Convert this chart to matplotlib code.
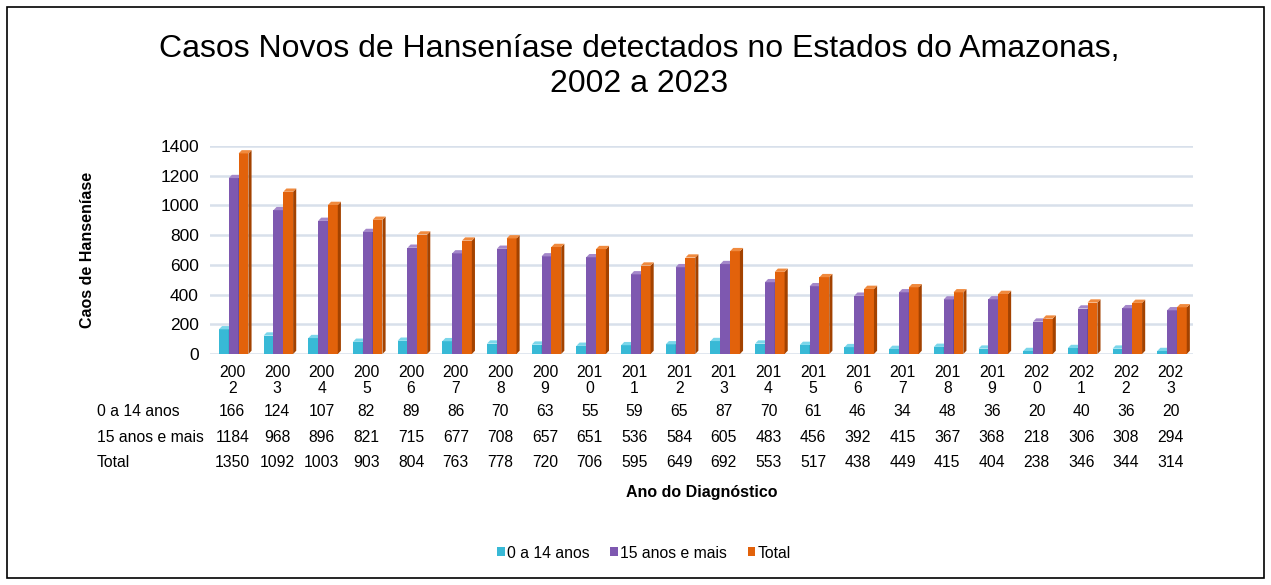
import matplotlib.pyplot as plt
from matplotlib.patches import Polygon, Rectangle
from matplotlib.transforms import blended_transform_factory

plt.rcParams['font.family'] = ['Liberation Sans', 'DejaVu Sans']

anos = list(range(2002, 2024))
criancas = [166, 124, 107, 82, 89, 86, 70, 63, 55, 59, 65, 87, 70, 61, 46, 34, 48, 36, 20, 40, 36, 20]
adultos = [1184, 968, 896, 821, 715, 677, 708, 657, 651, 536, 584, 605, 483, 456, 392, 415, 367, 368, 218, 306, 308, 294]
total = [1350, 1092, 1003, 903, 804, 763, 778, 720, 706, 595, 649, 692, 553, 517, 438, 449, 415, 404, 238, 346, 344, 314]

series = [
    ("0 a 14 anos", criancas, '#38b9d6', '#2590ae', '#7ad6ea'),
    ("15 anos e mais", adultos, '#7e58b0', '#573a82', '#a487ca'),
    ("Total", total, '#e2620b', '#a34200', '#f08a3e'),
]

W, H = 1271, 585
fig = plt.figure(figsize=(W / 100, H / 100), dpi=100)
ax = fig.add_axes([210 / W, 1 - 354 / H, (1193 - 210) / W, (354 - 146) / H])
n = len(anos)
ax.set_xlim(-0.5, n - 0.5)
ax.set_ylim(0, 1400)

for v in range(0, 1401, 200):
    ax.axhline(v, color='#d8e0eb', lw=1.8, zorder=0)

w = 0.22
dx = 0.07
dy = 22
for k, (nome, vals, cf, cs, ct) in enumerate(series):
    for i, v in enumerate(vals):
        x0 = i + (k - 1) * w - w / 2 + 0.03
        ax.add_patch(Rectangle((x0, 0), w, v, facecolor=cf, edgecolor='none', zorder=3 + k))
        ax.add_patch(Polygon([(x0 + w, 0), (x0 + w + dx, dy), (x0 + w + dx, v + dy), (x0 + w, v)],
                             closed=True, facecolor=cs, edgecolor='none', zorder=3 + k))
        ax.add_patch(Polygon([(x0, v), (x0 + w, v), (x0 + w + dx, v + dy), (x0 + dx, v + dy)],
                             closed=True, facecolor=ct, edgecolor='none', zorder=3 + k))

for s in ax.spines.values():
    s.set_visible(False)
ax.set_yticks(range(0, 1401, 200))
ax.tick_params(axis='y', length=0, labelsize=12.5, pad=8)
ax.set_xticks(range(n))
ax.set_xticklabels([f"{str(a)[:3]}\n{str(a)[3]}" for a in anos], fontsize=11.3, linespacing=1.05)
ax.tick_params(axis='x', length=0, pad=8)

fig.text(87 / W, 1 - 250 / H, "Caos de Hanseníase", fontsize=11.5, fontweight='bold',
         rotation=90, ha='center', va='center')

tr = blended_transform_factory(ax.transData, fig.transFigure)
linhas = [("0 a 14 anos", criancas), ("15 anos e mais", adultos), ("Total", total)]
for j, (rot, vals) in enumerate(linhas):
    y = 1 - (416 + 25.5 * j) / H
    fig.text(97 / W, y, rot, fontsize=11.3, va='baseline', ha='left')
    for i, v in enumerate(vals):
        fig.text(i, y, str(v), transform=tr, fontsize=11.3, va='baseline', ha='center')

fig.text(702 / W, 1 - 497 / H, "Ano do Diagnóstico", fontsize=11.5, fontweight='bold',
         ha='center', va='baseline')

fig.text(639 / W, 1 - 57 / H, "Casos Novos de Hanseníase detectados no Estados do Amazonas,",
         fontsize=23, ha='center', va='baseline')
fig.text(639 / W, 1 - 92 / H, "2002 a 2023", fontsize=23, ha='center', va='baseline')

handles = [Rectangle((0, 0), 1, 1, facecolor=s[2]) for s in series]
fig.legend(handles, [s[0] for s in series], loc='center', bbox_to_anchor=(644 / W, 1 - 553 / H),
           ncol=3, frameon=False, fontsize=11.3, handlelength=0.5, handleheight=0.5,
           handletextpad=0.15, columnspacing=1.3)

fig.add_artist(Rectangle((7 / W, 7 / H), 1 - 14 / W, 1 - 14 / H, transform=fig.transFigure,
                         fill=False, edgecolor='black', lw=1.2))

fig.savefig("out.png", dpi=100)
